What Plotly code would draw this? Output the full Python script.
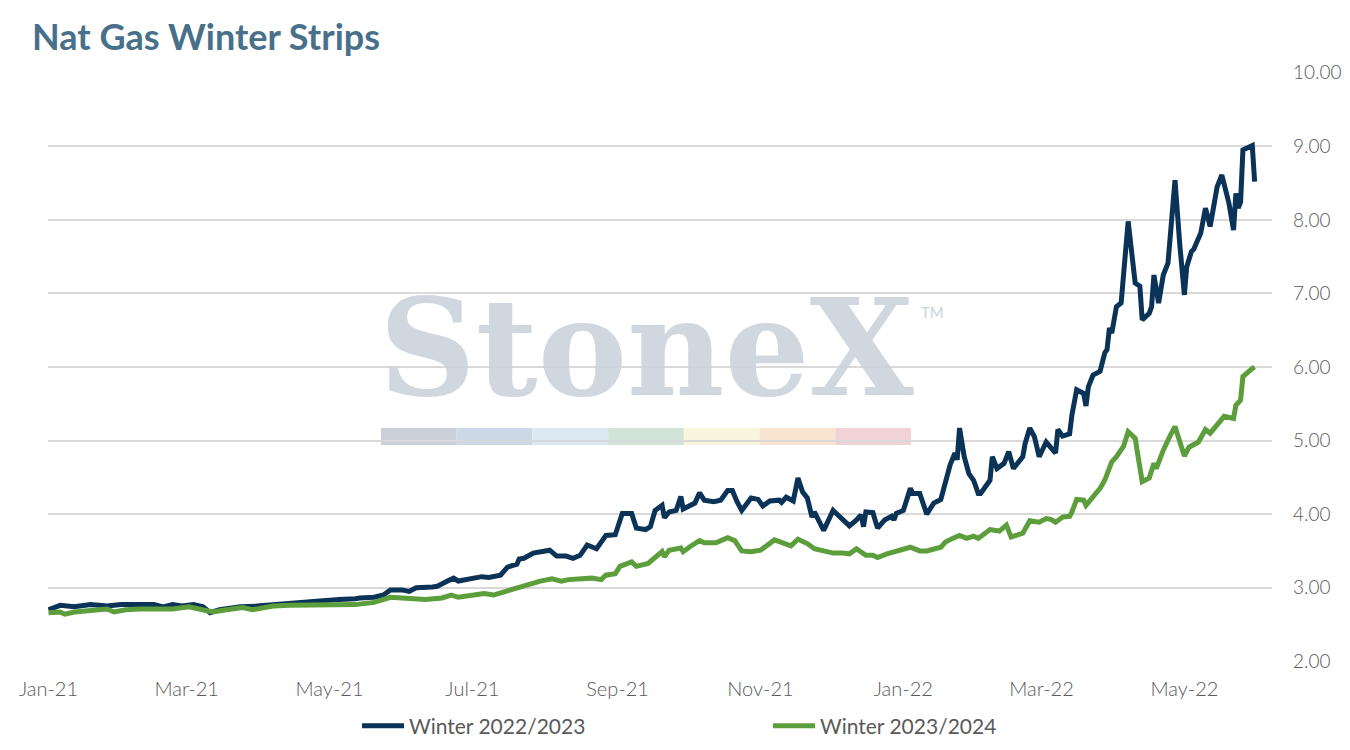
import plotly.graph_objects as go

# Winter strip prices ($/MMBtu)
w2223_dates = [
    '2021-01-01', '2021-01-06', '2021-01-12', '2021-01-19', '2021-01-26', '2021-02-01', '2021-02-08',
    '2021-02-15', '2021-02-19', '2021-02-23', '2021-02-27', '2021-03-04', '2021-03-08', '2021-03-11',
    '2021-03-15', '2021-03-24', '2021-03-31', '2021-04-07', '2021-04-14', '2021-04-21', '2021-04-28',
    '2021-05-05', '2021-05-12', '2021-05-14', '2021-05-20', '2021-05-24', '2021-05-27', '2021-06-01',
    '2021-06-04', '2021-06-07', '2021-06-14', '2021-06-16', '2021-06-21', '2021-06-23', '2021-06-25',
    '2021-06-30', '2021-07-05', '2021-07-08', '2021-07-13', '2021-07-16', '2021-07-20', '2021-07-21',
    '2021-07-23', '2021-07-27', '2021-07-30', '2021-08-03', '2021-08-06', '2021-08-10', '2021-08-13',
    '2021-08-16', '2021-08-19', '2021-08-23', '2021-08-25', '2021-08-27', '2021-08-31', '2021-09-02',
    '2021-09-03', '2021-09-07', '2021-09-09', '2021-09-13', '2021-09-15', '2021-09-17', '2021-09-20',
    '2021-09-21', '2021-09-23', '2021-09-26', '2021-09-28', '2021-09-29', '2021-10-04', '2021-10-06',
    '2021-10-08', '2021-10-12', '2021-10-15', '2021-10-18', '2021-10-20', '2021-10-22', '2021-10-24',
    '2021-10-28', '2021-10-31', '2021-11-02', '2021-11-05', '2021-11-09', '2021-11-10', '2021-11-12',
    '2021-11-15', '2021-11-17', '2021-11-19', '2021-11-21', '2021-11-23', '2021-11-24', '2021-11-26',
    '2021-11-28', '2021-12-02', '2021-12-05', '2021-12-07', '2021-12-09', '2021-12-12', '2021-12-14',
    '2021-12-15', '2021-12-16', '2021-12-19', '2021-12-21', '2021-12-24', '2021-12-27', '2021-12-28',
    '2021-12-29', '2022-01-01', '2022-01-04', '2022-01-05', '2022-01-08', '2022-01-11', '2022-01-14',
    '2022-01-17', '2022-01-21', '2022-01-23', '2022-01-24', '2022-01-25', '2022-01-27', '2022-01-29',
    '2022-01-31', '2022-02-02', '2022-02-03', '2022-02-07', '2022-02-08', '2022-02-10', '2022-02-13',
    '2022-02-15', '2022-02-17', '2022-02-21', '2022-02-22', '2022-02-24', '2022-02-26', '2022-02-28',
    '2022-03-03', '2022-03-07', '2022-03-08', '2022-03-10', '2022-03-13', '2022-03-14', '2022-03-16',
    '2022-03-19', '2022-03-20', '2022-03-21', '2022-03-23', '2022-03-26', '2022-03-28', '2022-03-29',
    '2022-03-30', '2022-03-31', '2022-04-02', '2022-04-04', '2022-04-07', '2022-04-10', '2022-04-12',
    '2022-04-13', '2022-04-16', '2022-04-17', '2022-04-18', '2022-04-20', '2022-04-22', '2022-04-24',
    '2022-04-27', '2022-04-29', '2022-05-01', '2022-05-02', '2022-05-04', '2022-05-05', '2022-05-08',
    '2022-05-10', '2022-05-12', '2022-05-15', '2022-05-17', '2022-05-20', '2022-05-22', '2022-05-23',
    '2022-05-24', '2022-05-25', '2022-05-26', '2022-05-28', '2022-05-30', '2022-05-31']
w2223_vals = [
    2.70, 2.76, 2.74, 2.77, 2.75, 2.77, 2.77,
    2.77, 2.74, 2.77, 2.75, 2.77, 2.74, 2.66,
    2.70, 2.74, 2.75, 2.77, 2.79, 2.80, 2.82,
    2.84, 2.85, 2.86, 2.87, 2.90, 2.97, 2.97,
    2.95, 3.00, 3.01, 3.02, 3.10, 3.13, 3.09,
    3.12, 3.15, 3.14, 3.17, 3.28, 3.32, 3.39,
    3.40, 3.47, 3.48, 3.51, 3.43, 3.43, 3.40,
    3.44, 3.58, 3.53, 3.62, 3.71, 3.72, 3.90,
    4.01, 4.01, 3.81, 3.79, 3.83, 4.05, 4.12,
    3.95, 4.03, 4.05, 4.24, 4.07, 4.15, 4.29,
    4.19, 4.17, 4.19, 4.32, 4.32, 4.17, 4.05,
    4.22, 4.20, 4.11, 4.18, 4.19, 4.16, 4.23,
    4.18, 4.49, 4.30, 4.22, 3.96, 4.03, 3.92,
    3.78, 4.05, 3.96, 3.88, 3.84, 3.92, 3.99,
    3.83, 4.03, 4.02, 3.81, 3.92, 3.97, 3.92,
    4.01, 4.05, 4.35, 4.28, 4.28, 4.00, 4.15,
    4.20, 4.67, 4.83, 4.74, 5.17, 4.78, 4.55,
    4.46, 4.28, 4.28, 4.46, 4.78, 4.62, 4.69,
    4.85, 4.62, 4.78, 4.96, 5.17, 5.05, 4.78,
    4.98, 4.83, 5.15, 5.06, 5.09, 5.35, 5.69,
    5.64, 5.47, 5.73, 5.89, 5.94, 6.19, 6.24,
    6.53, 6.46, 6.82, 6.87, 7.98, 7.14, 7.10,
    6.64, 6.73, 6.82, 7.25, 6.87, 7.25, 7.41,
    8.54, 7.68, 6.98, 7.36, 7.57, 7.60, 7.82,
    8.16, 7.91, 8.45, 8.61, 8.23, 7.86, 8.36,
    8.16, 8.24, 8.95, 8.98, 9.01, 8.52]

w2324_dates = [
    '2021-01-01', '2021-01-06', '2021-01-08', '2021-01-12', '2021-01-19', '2021-01-26', '2021-01-29',
    '2021-02-03', '2021-02-09', '2021-02-16', '2021-02-23', '2021-03-02', '2021-03-09', '2021-03-12',
    '2021-03-18', '2021-03-25', '2021-03-29', '2021-04-07', '2021-04-14', '2021-04-21', '2021-04-28',
    '2021-05-05', '2021-05-12', '2021-05-20', '2021-05-22', '2021-05-27', '2021-06-01', '2021-06-07',
    '2021-06-11', '2021-06-18', '2021-06-22', '2021-06-25', '2021-07-02', '2021-07-06', '2021-07-10',
    '2021-07-14', '2021-07-20', '2021-07-26', '2021-07-30', '2021-08-04', '2021-08-08', '2021-08-11',
    '2021-08-16', '2021-08-21', '2021-08-25', '2021-08-27', '2021-08-31', '2021-09-02', '2021-09-07',
    '2021-09-09', '2021-09-14', '2021-09-17', '2021-09-20', '2021-09-21', '2021-09-23', '2021-09-28',
    '2021-09-29', '2021-10-02', '2021-10-06', '2021-10-08', '2021-10-13', '2021-10-18', '2021-10-21',
    '2021-10-24', '2021-10-28', '2021-11-01', '2021-11-07', '2021-11-14', '2021-11-17', '2021-11-21',
    '2021-11-24', '2021-11-28', '2021-12-02', '2021-12-06', '2021-12-09', '2021-12-12', '2021-12-16',
    '2021-12-19', '2021-12-21', '2021-12-25', '2021-12-29', '2022-01-04', '2022-01-08', '2022-01-11',
    '2022-01-17', '2022-01-19', '2022-01-22', '2022-01-25', '2022-01-28', '2022-01-31', '2022-02-02',
    '2022-02-07', '2022-02-11', '2022-02-14', '2022-02-16', '2022-02-21', '2022-02-24', '2022-02-28',
    '2022-03-03', '2022-03-05', '2022-03-07', '2022-03-10', '2022-03-13', '2022-03-14', '2022-03-16',
    '2022-03-19', '2022-03-20', '2022-03-23', '2022-03-26', '2022-03-28', '2022-03-31', '2022-04-02',
    '2022-04-05', '2022-04-07', '2022-04-10', '2022-04-11', '2022-04-13', '2022-04-16', '2022-04-18',
    '2022-04-19', '2022-04-22', '2022-04-25', '2022-04-27', '2022-05-01', '2022-05-03', '2022-05-07',
    '2022-05-10', '2022-05-12', '2022-05-15', '2022-05-18', '2022-05-22', '2022-05-23', '2022-05-25',
    '2022-05-26', '2022-05-30', '2022-05-31']
w2324_vals = [
    2.66, 2.67, 2.64, 2.67, 2.69, 2.71, 2.67,
    2.70, 2.71, 2.71, 2.71, 2.74, 2.68, 2.67,
    2.70, 2.73, 2.70, 2.75, 2.76, 2.76, 2.76,
    2.77, 2.77, 2.80, 2.82, 2.87, 2.86, 2.85,
    2.84, 2.86, 2.90, 2.87, 2.90, 2.92, 2.90,
    2.94, 2.99, 3.06, 3.09, 3.12, 3.09, 3.11,
    3.12, 3.13, 3.11, 3.17, 3.19, 3.29, 3.35,
    3.29, 3.33, 3.40, 3.49, 3.42, 3.51, 3.54,
    3.49, 3.56, 3.64, 3.61, 3.61, 3.68, 3.64,
    3.50, 3.49, 3.51, 3.65, 3.57, 3.66, 3.60,
    3.53, 3.50, 3.47, 3.47, 3.46, 3.53, 3.44,
    3.44, 3.41, 3.46, 3.50, 3.55, 3.50, 3.50,
    3.55, 3.62, 3.67, 3.71, 3.67, 3.70, 3.67,
    3.79, 3.77, 3.85, 3.69, 3.74, 3.91, 3.89,
    3.94, 3.93, 3.89, 3.96, 3.97, 4.03, 4.20,
    4.19, 4.12, 4.24, 4.35, 4.46, 4.71, 4.78,
    4.92, 5.12, 5.03, 4.83, 4.44, 4.49, 4.69,
    4.62, 4.87, 5.07, 5.19, 4.79, 4.91, 4.98,
    5.15, 5.10, 5.21, 5.33, 5.30, 5.48, 5.55,
    5.87, 5.98, 6.00]

tick_dates = ['2021-01-01', '2021-03-01', '2021-05-01', '2021-07-01', '2021-09-01',
              '2021-11-01', '2022-01-01', '2022-03-01', '2022-05-01']
tick_labels = ['Jan-21', 'Mar-21', 'May-21', 'Jul-21', 'Sep-21', 'Nov-21', 'Jan-22', 'Mar-22', 'May-22']
y_ticks = [2, 3, 4, 5, 6, 7, 8, 9, 10]

BLUE = '#0b3357'
GREEN = '#5b9e3b'
GRAY_TXT = '#595959'
FONT = 'Lato'

# the page body adds an 8px margin, so everything is laid out 8px up/left
OFF = 8
W, H = 1350, 750
ML, MT, PW, PH = 40, 64, 1224, 590
MR, MB = W - ML - PW, H - MT - PH


def px(x):
    return (x - OFF - ML) / PW


def py(y):
    return (MT + PH - (y - OFF)) / PH


fig = go.Figure()
fig.add_trace(go.Scatter(x=w2223_dates, y=w2223_vals, mode='lines', name='Winter 2022/2023',
                         line=dict(color=BLUE, width=5)))
fig.add_trace(go.Scatter(x=w2324_dates, y=w2324_vals, mode='lines', name='Winter 2023/2024',
                         line=dict(color=GREEN, width=5)))

# StoneX watermark: colour strip under the logo text
strip = ['#c9d0d9', '#ccd8e5', '#dce9f3', '#d2e3d7', '#f8f6dc', '#f9e5cf', '#f2d3d5']
seg = (911 - 381) / len(strip)
for i, c in enumerate(strip):
    fig.add_shape(type='rect', xref='paper', yref='paper', layer='below', line_width=0, fillcolor=c,
                  x0=px(381 + i * seg), x1=px(381 + (i + 1) * seg), y0=py(445), y1=py(428))

fig.add_annotation(text='<b>StoneX</b>', xref='paper', yref='paper', x=px(646), y=py(348),
                   xanchor='center', yanchor='middle', showarrow=False, opacity=0.9,
                   font=dict(family='DejaVu Serif', size=134, color='#cbd3dc'))
fig.add_annotation(text='TM', xref='paper', yref='paper', x=px(919), y=py(312),
                   xanchor='left', yanchor='middle', showarrow=False,
                   font=dict(family='Lato', size=15, color='#cbd3dc'))

fig.add_annotation(text='<b>Nat Gas Winter Strips</b>', xref='paper', yref='paper', x=px(30), y=py(36),
                   xanchor='left', yanchor='middle', showarrow=False,
                   font=dict(family=FONT, size=36, color='#48708a'))

fig.update_layout(
    width=W, height=H,
    margin=dict(l=ML, r=MR, t=MT, b=MB),
    paper_bgcolor='white', plot_bgcolor='white',
    font=dict(family=FONT, size=20, color=GRAY_TXT),
    showlegend=True,
    legend=dict(orientation='h', x=px(357), xanchor='left', y=py(726),
                yanchor='middle', entrywidth=354, entrywidthmode='pixels', itemwidth=42,
                font=dict(family=FONT, size=21, color=GRAY_TXT), bgcolor='rgba(0,0,0,0)'),
    xaxis=dict(type='date', range=['2020-12-31 19:00', '2022-06-07 10:00'],
               tickvals=tick_dates, ticktext=tick_labels,
               showgrid=False, showline=False, zeroline=False, ticks='', ticklabelstandoff=13,
               automargin=False, tickfont=dict(family=FONT, size=20, color=GRAY_TXT, weight=300)),
    yaxis=dict(range=[1.99, 10.01], tickvals=y_ticks, tickformat='.2f', side='right', showgrid=True,
               gridcolor='#d9d9d9', gridwidth=1.5, zeroline=False, showline=False, ticks='',
               automargin=False, ticklabelstandoff=20,
               tickfont=dict(family=FONT, size=19, color=GRAY_TXT, weight=300)),
)

fig.write_html('out.html')
